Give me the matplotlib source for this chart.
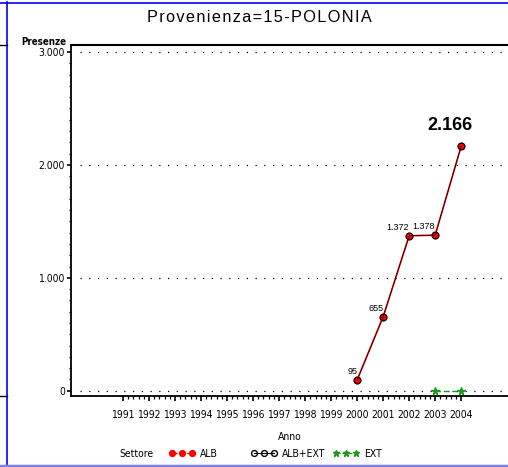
import numpy as np
import matplotlib
matplotlib.use("Agg")
import matplotlib.pyplot as plt
from matplotlib.lines import Line2D
from matplotlib.ticker import FixedLocator, FuncFormatter
from matplotlib import font_manager
from matplotlib.font_manager import FontProperties

# data
anni = [2000, 2001, 2002, 2003, 2004]
alb = [95, 655, 1372, 1378, 2166]
alb_ext = [95, 655, 1372, 1378, 2166]
ext_anni = [2003, 2004]
ext = [0, 0]
tick_anni = list(range(1991, 2005))
y_ticks = [0, 1000, 2000, 3000]
serie = ['ALB', 'ALB+EXT', 'EXT']

W, H = 508, 467


def find_narrow(bold=False):
    # look for a condensed / narrow face, else None
    prefs = ['liberationsansnarrow', 'dejavusanscondensed', 'robotocondensed',
             'opensanscondensed', 'notosanscondensed']
    found = {}
    for f in font_manager.fontManager.ttflist:
        base = f.fname.split('/')[-1].lower().replace('-', '').replace('_', '')
        if f.style != 'normal':
            continue
        isbold = f.weight in ('bold', 700) or 'bold' in base
        if isbold != bold:
            continue
        for p in prefs:
            if base.startswith(p) and 'oblique' not in base and 'italic' not in base:
                found.setdefault(p, f.fname)
    for p in prefs:
        if p in found:
            return found[p]
    return None


nf = find_narrow()
nfb = find_narrow(bold=True)
if nf:
    NARROW = FontProperties(fname=nf)
    SCALE = 1.0
else:
    NARROW = FontProperties(family='Liberation Sans')
    SCALE = 0.87
NARROW_B = FontProperties(fname=nfb) if nfb else FontProperties(family='Liberation Sans', weight='bold')


def fp(base, size):
    p = base.copy()
    p.set_size(size)
    return p


def fmt_it(v, pos=None):
    # italian thousands separator
    return f"{int(v):,}".replace(",", ".")


fig = plt.figure(figsize=(W / 100, H / 100), dpi=100)
ax = fig.add_axes([71 / W, 1 - 396 / H, 1 - 71 / W, (396 - 45) / H])

ax.set_xlim(1989, 2005.8)
ax.set_ylim(-47, 3062)

# dotted reference lines
for v in y_ticks:
    ax.axhline(v, color='black', lw=0.9, ls=(0, (1, 6)), xmin=0.02, zorder=1)

ax.plot(anni, alb, color='red', lw=1.2, marker='o', ms=4.8, mfc='red', mec='red', zorder=3)
ax.plot(anni, alb_ext, color='black', lw=0.5, marker='o', ms=4.8, mfc='none', mec='black', mew=0.8, zorder=4)
ax.plot(ext_anni, ext, color='#1a9a1a', lw=1.0, ls=(0, (4, 2)), marker='*', ms=5.5, zorder=4)

# value labels
for x, y in zip(anni[:-1], alb[:-1]):
    ax.annotate(fmt_it(y), (x, y), xytext=(0, 4), textcoords='offset pixels',
                ha='right', va='bottom', fontsize=6.5, family='Liberation Sans')
ax.annotate(fmt_it(alb[-1]), (anni[-1], alb[-1]), xytext=(-11, 12), textcoords='offset pixels',
            ha='center', va='bottom', fontsize=13, fontweight='bold', family='Liberation Sans')

ax.spines['right'].set_visible(False)
ax.spines['top'].set_linewidth(1.5)
ax.spines['left'].set_linewidth(1.3)
ax.spines['bottom'].set_linewidth(1.3)

ax.xaxis.set_major_locator(FixedLocator(tick_anni))
ax.xaxis.set_minor_locator(FixedLocator(np.arange(1991, 2004.01, 0.2)))
ax.yaxis.set_major_locator(FixedLocator(y_ticks))
ax.yaxis.set_minor_locator(FixedLocator(np.arange(0, 3001, 100)))
ax.yaxis.set_major_formatter(FuncFormatter(fmt_it))
ax.tick_params(axis='x', which='major', length=3.8, width=1.2, pad=6)
ax.tick_params(axis='x', which='minor', length=2.2, width=0.9)
ax.tick_params(axis='y', which='major', length=3, width=1.2, pad=1.5)
ax.tick_params(axis='y', which='minor', length=1.8, width=0.9)
for lab in ax.get_xticklabels() + ax.get_yticklabels():
    lab.set_fontproperties(fp(NARROW, 7.5 * SCALE))

ax.set_xlabel('Anno', fontproperties=fp(NARROW, 7.5 * SCALE), labelpad=9)
fig.text(66 / W, 1 - 42 / H, 'Presenze', ha='right', va='center',
         fontproperties=fp(NARROW_B, 7 * SCALE))

# letter-spaced title, like the original
title = fig.text(259 / W, 1 - 18 / H, '\u200a'.join('Provenienza=15-POLONIA'),
                 ha='center', va='center', family=['Liberation Sans', 'DejaVu Sans'], fontsize=16)

# legend: one entry per slot, at the positions of the original
fig.text(119 / W, 1 - 454 / H, 'Settore', ha='left', va='center',
         fontproperties=fp(NARROW, 7.5 * SCALE))
handles = [
    Line2D([], [], color='red', lw=1, ls='--', marker='o', ms=4.2, mfc='red', mec='red'),
    Line2D([], [], color='black', lw=0.8, marker='o', ms=4.2, mfc='none', mec='black'),
    Line2D([], [], color='#1a9a1a', lw=0.8, ls='--', marker='*', ms=5),
]
slot_x = [169, 251, 333]
for h, lab, sx in zip(handles, serie, slot_x):
    fig.legend([h], [lab], loc='center left', bbox_to_anchor=(sx / W, 1 - 454 / H),
               frameon=False, numpoints=3, handlelength=2.5, handletextpad=0.45,
               borderpad=0, borderaxespad=0, prop=fp(NARROW, 7.5 * SCALE))

# page border lines
fig.add_artist(Line2D([0, 1], [1 - 2.5 / H] * 2, color='#0000ff', lw=1.2))
fig.add_artist(Line2D([6.5 / W] * 2, [0, 1 - 2 / H], color='#0000ff', lw=1.2))
fig.add_artist(Line2D([0, 1], [1 - 465.5 / H] * 2, color='#8080f0', lw=2.5))
fig.add_artist(Line2D([0, 6.5 / W], [1 - 45 / H] * 2, color='black', lw=1))
fig.add_artist(Line2D([0, 6.5 / W], [1 - 396 / H] * 2, color='black', lw=1))

# fit title width to the reference (about 225 px)
r = fig.canvas.get_renderer()
tw = title.get_window_extent(r).width
title.set_fontsize(16 * 225 / tw)

fig.savefig('out.png', dpi=100)
